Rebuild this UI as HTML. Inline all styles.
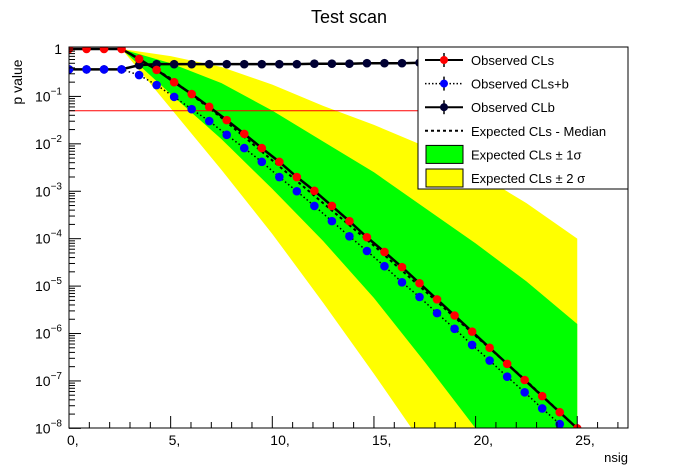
<!DOCTYPE html>
<html><head><meta charset="utf-8"><style>
html,body{margin:0;padding:0;background:#fff;width:698px;height:476px;overflow:hidden;}
svg{display:block;font-family:"Liberation Sans",sans-serif;}
</style></head><body>
<svg id="c" width="698" height="476">
<rect width="698" height="476" fill="#fff"/>
<text x="349" y="23" font-size="18" text-anchor="middle">Test scan</text>
<text transform="translate(22,82) rotate(-90)" font-size="14" text-anchor="middle">p value</text>
<text x="628" y="462" font-size="13" text-anchor="end">nsig</text>
<g id="bands"></g><g id="lines"></g><g id="marks"></g><g id="axes"></g><g id="legend"></g>
</svg>
<script>
const pointX=[0,0.862,1.724,2.586,3.448,4.310,5.172,6.034,6.897,7.759,8.621,9.483,10.345,11.207,12.069,12.931,13.793,14.655,15.517,16.379,17.241,18.103,18.966,19.828,20.690,21.552,22.414,23.276,24.138,25];
const obsCLsLog=[0,0,0,0,-0.21,-0.44,-0.70,-0.95,-1.22,-1.50,-1.79,-2.09,-2.38,-2.70,-2.99,-3.31,-3.63,-3.97,-4.28,-4.60,-4.94,-5.28,-5.62,-5.96,-6.30,-6.64,-6.98,-7.32,-7.66,-8.0];
const obsCLsbLog=[-0.43,-0.43,-0.43,-0.43,-0.55,-0.76,-1.01,-1.27,-1.52,-1.81,-2.09,-2.38,-2.70,-3.0,-3.31,-3.63,-3.95,-4.26,-4.58,-4.92,-5.23,-5.57,-5.90,-6.24,-6.57,-6.91,-7.24,-7.58,-7.91,-8.25];
const obsCLbLog=[-0.43,-0.43,-0.43,-0.43,-0.34,-0.32,-0.32,-0.32,-0.32,-0.32,-0.32,-0.32,-0.32,-0.32,-0.31,-0.31,-0.31,-0.30,-0.30,-0.30,-0.29,-0.29,-0.29,-0.29,-0.28,-0.28,-0.28,-0.28,-0.27,-0.27];
const bandX=[2.586,5,7.5,10,12.5,15,17.5,20,22.5,25];
const medianLog=[0,-0.62,-1.45,-2.35,-3.25,-4.15,-5.1,-6.05,-7.0,-8.0];
const up2Log=[0,-0.15,-0.38,-0.75,-1.2,-1.6,-2.05,-2.6,-3.25,-4.0];
const up1Log=[0,-0.3,-0.72,-1.3,-1.95,-2.6,-3.35,-4.1,-4.9,-5.8];
const lo1Log=[0,-0.95,-1.9,-2.95,-4.05,-5.25,-6.6,-8.0,-9.3,-10.5];
const lo2Log=[0,-1.25,-2.55,-3.9,-5.35,-6.85,-8.4,-9.8,-11.2,-12.5];
const xTicks=[0,5,10,15,20,25];
const yDecades=[0,-1,-2,-3,-4,-5,-6,-7,-8];
const cutLine=0.05;

const L=69,R=628,T=47,B=428;
const X=v=>L+v*20.33;
const Y=lg=>49-lg*47.42;
const NS="http://www.w3.org/2000/svg";
function mk(tag,parent,attrs){const e=document.createElementNS(NS,tag);for(const k in attrs)e.setAttribute(k,attrs[k]);parent.appendChild(e);return e;}
const svg=document.getElementById('c');
const clip=mk('clipPath',svg,{id:'fr'});mk('rect',clip,{x:L,y:T,width:R-L,height:B-T});
const gb=document.getElementById('bands');gb.setAttribute('clip-path','url(#fr)');
function band(up,lo,col,name){
  let d='M'+bandX.map((x,i)=>X(x)+','+Y(up[i])).join('L');
  for(let i=bandX.length-1;i>=0;i--)d+='L'+X(bandX[i])+','+Y(lo[i]);
  const p=mk('path',gb,{d:d+'Z',fill:col});
  
  
}
band(up2Log,lo2Log,'#ffff00','band-2sigma');
band(up1Log,lo1Log,'#00ff00','band-1sigma');
const gl=document.getElementById('lines');gl.setAttribute('clip-path','url(#fr)');
const med=mk('polyline',gl,{points:bandX.map((x,i)=>X(x)+','+Y(medianLog[i])).join(' '),fill:'none',stroke:'#000','stroke-width':2,'stroke-dasharray':'3,3'});


const rl=mk('line',gl,{x1:L,x2:418,y1:Y(Math.log10(cutLine)),y2:Y(Math.log10(cutLine)),stroke:'#ff0000','stroke-width':1});


const gm=document.getElementById('marks');gm.setAttribute('clip-path','url(#fr)');
function series(vals,col,dash,name){
  const pl=mk('polyline',gl,{points:pointX.map((x,i)=>X(x)+','+Y(vals[i])).join(' '),fill:'none',stroke:'#000','stroke-width':dash?1.5:2.5});
  if(dash)pl.setAttribute('stroke-dasharray','1.5,2.5');
  
  
  pointX.forEach((x,i)=>{
    const c=mk('circle',gm,{cx:X(x),cy:Y(vals[i]),r:4.3,fill:col});
    
    
  });
}
series(obsCLbLog,'#000033',false,'observed-clb');
series(obsCLsbLog,'#0000ff',true,'observed-clsb');
series(obsCLsLog,'#ff0000',false,'observed-cls');
const ga=document.getElementById('axes');
const fr=mk('rect',ga,{x:L,y:T,width:R-L,height:B-T,fill:'none',stroke:'#000','stroke-width':1});


for(let v=0;v<=27;v++){const maj=v%5===0;mk('line',ga,{x1:X(v),x2:X(v),y1:B,y2:B-(maj?12:6),stroke:'#000'});}
xTicks.forEach(v=>{const t=mk('text',ga,{x:X(v)-2,y:445,'font-size':14,'text-anchor':'start'});t.textContent=v+',';
 });
yDecades.forEach(d=>{
  mk('line',ga,{x1:L,x2:L+12,y1:Y(d),y2:Y(d),stroke:'#000'});
  for(let k=2;k<=9;k++){const yy=Y(d+Math.log10(k));if(yy>=T)mk('line',ga,{x1:L,x2:L+6,y1:yy,y2:yy,stroke:'#000'});}
  const t=mk('text',ga,{x:62,y:Y(d)+5,'font-size':14,'text-anchor':'end'});
  if(d===0)t.textContent='1';else{t.textContent='10';const s=mk('tspan',t,{'font-size':10,dy:-7});s.textContent='\u2212'+(-d);}
  
});
const lg=document.getElementById('legend');
const lb=mk('rect',lg,{x:418,y:47,width:210,height:142,fill:'#fff',stroke:'#000'});


const rows=[['Observed CLs','line','#ff0000'],['Observed CLs+b','dot','#0000ff'],['Observed CLb','line','#000033'],['Expected CLs - Median','dash'],['Expected CLs \u00b1 1\u03c3','box','#00ff00'],['Expected CLs \u00b1 2 \u03c3','box','#ffff00']];
rows.forEach((r,i)=>{
  const cy=60+i*23.6;
  const g=mk('g',lg,{});
  
  
  if(r[1]==='line'||r[1]==='dot'){
    const l=mk('line',g,{x1:425,x2:463,y1:cy,y2:cy,stroke:'#000','stroke-width':r[1]==='dot'?1.5:2});
    if(r[1]==='dot')l.setAttribute('stroke-dasharray','1.5,2');
    mk('line',g,{x1:444,x2:444,y1:cy-7,y2:cy+7,stroke:'#000','stroke-width':1.5});
    mk('circle',g,{cx:444,cy:cy,r:4,fill:r[2]});
  }else if(r[1]==='dash'){
    mk('line',g,{x1:425,x2:463,y1:cy,y2:cy,stroke:'#000','stroke-width':2,'stroke-dasharray':'3,3'});
  }else{
    mk('rect',g,{x:426,y:cy-9,width:37,height:18,fill:r[2],stroke:'#000'});
  }
  const t=mk('text',g,{x:471,y:cy+5,'font-size':13});t.textContent=r[0];
});
</script>
</body></html>
